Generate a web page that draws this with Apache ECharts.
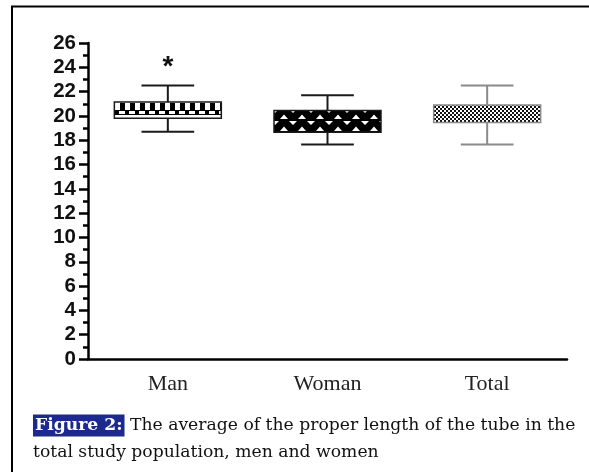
<!DOCTYPE html>
<html>
<head>
<meta charset="utf-8">
<script src="https://cdn.jsdelivr.net/npm/echarts@6/dist/echarts.min.js"></script>
<style>
  html, body { margin: 0; padding: 0; background: #fff; }
  #chart { width: 589px; height: 472px; }
</style>
</head>
<body>
<div id="chart"></div>
<script>
// groups and their values (whisker low, box low, box high, whisker high)
var groups = ['Man', 'Woman', 'Total'];
var whiskerLow = [18.7, 17.65, 17.65];
var boxLow = [19.8, 18.65, 19.45];
var boxHigh = [21.15, 20.45, 20.9];
var whiskerHigh = [22.5, 21.7, 22.5];
var marks = ['*', '', ''];
var markAt = [24.0, 0, 0];
var lineColors = ['#1a1a1a', '#1a1a1a', '#8a8a8a'];

// pattern tiles
function tile(w, h, draw) {
  var c = document.createElement('canvas');
  c.width = w; c.height = h;
  var ctx = c.getContext('2d');
  ctx.fillStyle = '#fff';
  ctx.fillRect(0, 0, w, h);
  draw(ctx);
  return { image: c, repeat: 'repeat' };
}
var patterns = [
  // man: big blocks over a finer checker row
  tile(10, 16, function (ctx) {
    ctx.fillStyle = '#000';
    ctx.fillRect(0, 7, 5, 7);
    ctx.fillRect(0, 14, 10, 1);
    ctx.fillRect(5, 15, 4, 1);
    ctx.fillRect(5, 0, 4, 2);
    ctx.fillRect(0, 2, 10, 1);
  }),
  // woman: black with white triangles
  tile(18, 12, function (ctx) {
    ctx.fillStyle = '#000';
    ctx.fillRect(0, 0, 18, 12);
    ctx.fillStyle = '#fff';
    ctx.beginPath();
    ctx.moveTo(1, 1); ctx.lineTo(9, 1); ctx.lineTo(5, 5); ctx.closePath();
    ctx.moveTo(10, 11); ctx.lineTo(18, 11); ctx.lineTo(14, 6.5); ctx.closePath();
    ctx.fill();
  }),
  // total: fine checkerboard
  tile(4, 4, function (ctx) {
    ctx.fillStyle = '#111';
    ctx.fillRect(0, 0, 2, 2);
    ctx.fillRect(2, 2, 2, 2);
  })
];

var seriesData = groups.map(function (g, i) {
  return [i, whiskerLow[i], boxLow[i], boxHigh[i], whiskerHigh[i]];
});

var chart = echarts.init(document.getElementById('chart'));

function renderItem(params, api) {
  var i = api.value(0);
  var xc = api.coord([i, 0])[0];
  var band = api.size([1, 0])[0];
  var bw = band * 0.67, cw = band * 0.33;
  var pLo = api.coord([i, api.value(1)]);
  var pQ1 = api.coord([i, api.value(2)]);
  var pQ3 = api.coord([i, api.value(3)]);
  var pHi = api.coord([i, api.value(4)]);
  var col = lineColors[i];
  var lineStyle = { stroke: col, lineWidth: 2 };
  var children = [
    { type: 'line', shape: { x1: xc, y1: pHi[1], x2: xc, y2: pQ3[1] }, style: lineStyle },
    { type: 'line', shape: { x1: xc, y1: pQ1[1], x2: xc, y2: pLo[1] }, style: lineStyle },
    { type: 'line', shape: { x1: xc - cw / 2, y1: pHi[1], x2: xc + cw / 2, y2: pHi[1] }, style: lineStyle },
    { type: 'line', shape: { x1: xc - cw / 2, y1: pLo[1], x2: xc + cw / 2, y2: pLo[1] }, style: lineStyle },
    {
      type: 'rect',
      shape: { x: xc - bw / 2, y: pQ3[1], width: bw, height: pQ1[1] - pQ3[1] },
      style: { fill: patterns[i], stroke: col, lineWidth: 1.5 }
    }
  ];
  if (marks[i]) {
    var pm = api.coord([i, markAt[i]]);
    children.push({
      type: 'text',
      x: xc, y: pm[1],
      style: {
        text: marks[i], fill: '#111', align: 'center', verticalAlign: 'middle',
        font: 'bold 28px "Liberation Sans", Arial, sans-serif'
      }
    });
  }
  return { type: 'group', children: children };
}

chart.setOption({
  animation: false,
  backgroundColor: '#fff',
  grid: { left: 88, right: 22, top: 43, bottom: 113 },
  xAxis: {
    type: 'category',
    data: groups,
    boundaryGap: true,
    axisLine: { lineStyle: { color: '#000', width: 2.5 } },
    axisTick: { alignWithLabel: true, length: 8, lineStyle: { color: '#000', width: 2.5 } },
    axisLabel: {
      margin: 14, color: '#222', fontSize: 22,
      fontFamily: '"Liberation Serif", "Times New Roman", serif'
    },
    splitLine: { show: false }
  },
  yAxis: {
    type: 'value',
    min: 0, max: 26, interval: 2,
    axisLine: { show: true, lineStyle: { color: '#000', width: 2.5 } },
    axisTick: { show: true, length: 9, lineStyle: { color: '#000', width: 2.5 } },
    minorTick: { show: true, splitNumber: 2, length: 5, lineStyle: { color: '#000', width: 2.5 } },
    axisLabel: {
      margin: 12, color: '#111', fontSize: 20.5, fontWeight: 'bold',
      fontFamily: '"Liberation Sans", Arial, sans-serif'
    },
    splitLine: { show: false }
  },
  graphic: [
    { type: 'line', shape: { x1: 11, y1: 6.5, x2: 589, y2: 6.5 }, style: { stroke: '#000', lineWidth: 2 } },
    { type: 'line', shape: { x1: 12, y1: 6, x2: 12, y2: 472 }, style: { stroke: '#000', lineWidth: 2 } },
    {
      type: 'text', left: 33, top: 412,
      style: {
        text: '{a|Figure 2:} The average of the proper length of the tube in the\ntotal study population, men and women',
        font: '17.2px "DejaVu Serif", serif',
        fill: '#111',
        lineHeight: 27,
        rich: {
          a: {
            font: 'bold 17.2px "DejaVu Serif", serif',
            fill: '#fff',
            backgroundColor: '#1b2a8c',
            padding: [3, 2, 2, 2],
            lineHeight: 27
          }
        }
      }
    }
  ],
  series: [{
    type: 'custom',
    renderItem: renderItem,
    data: seriesData,
    encode: { x: 0, y: [1, 2, 3, 4] }
  }]
});
</script>
</body>
</html>
